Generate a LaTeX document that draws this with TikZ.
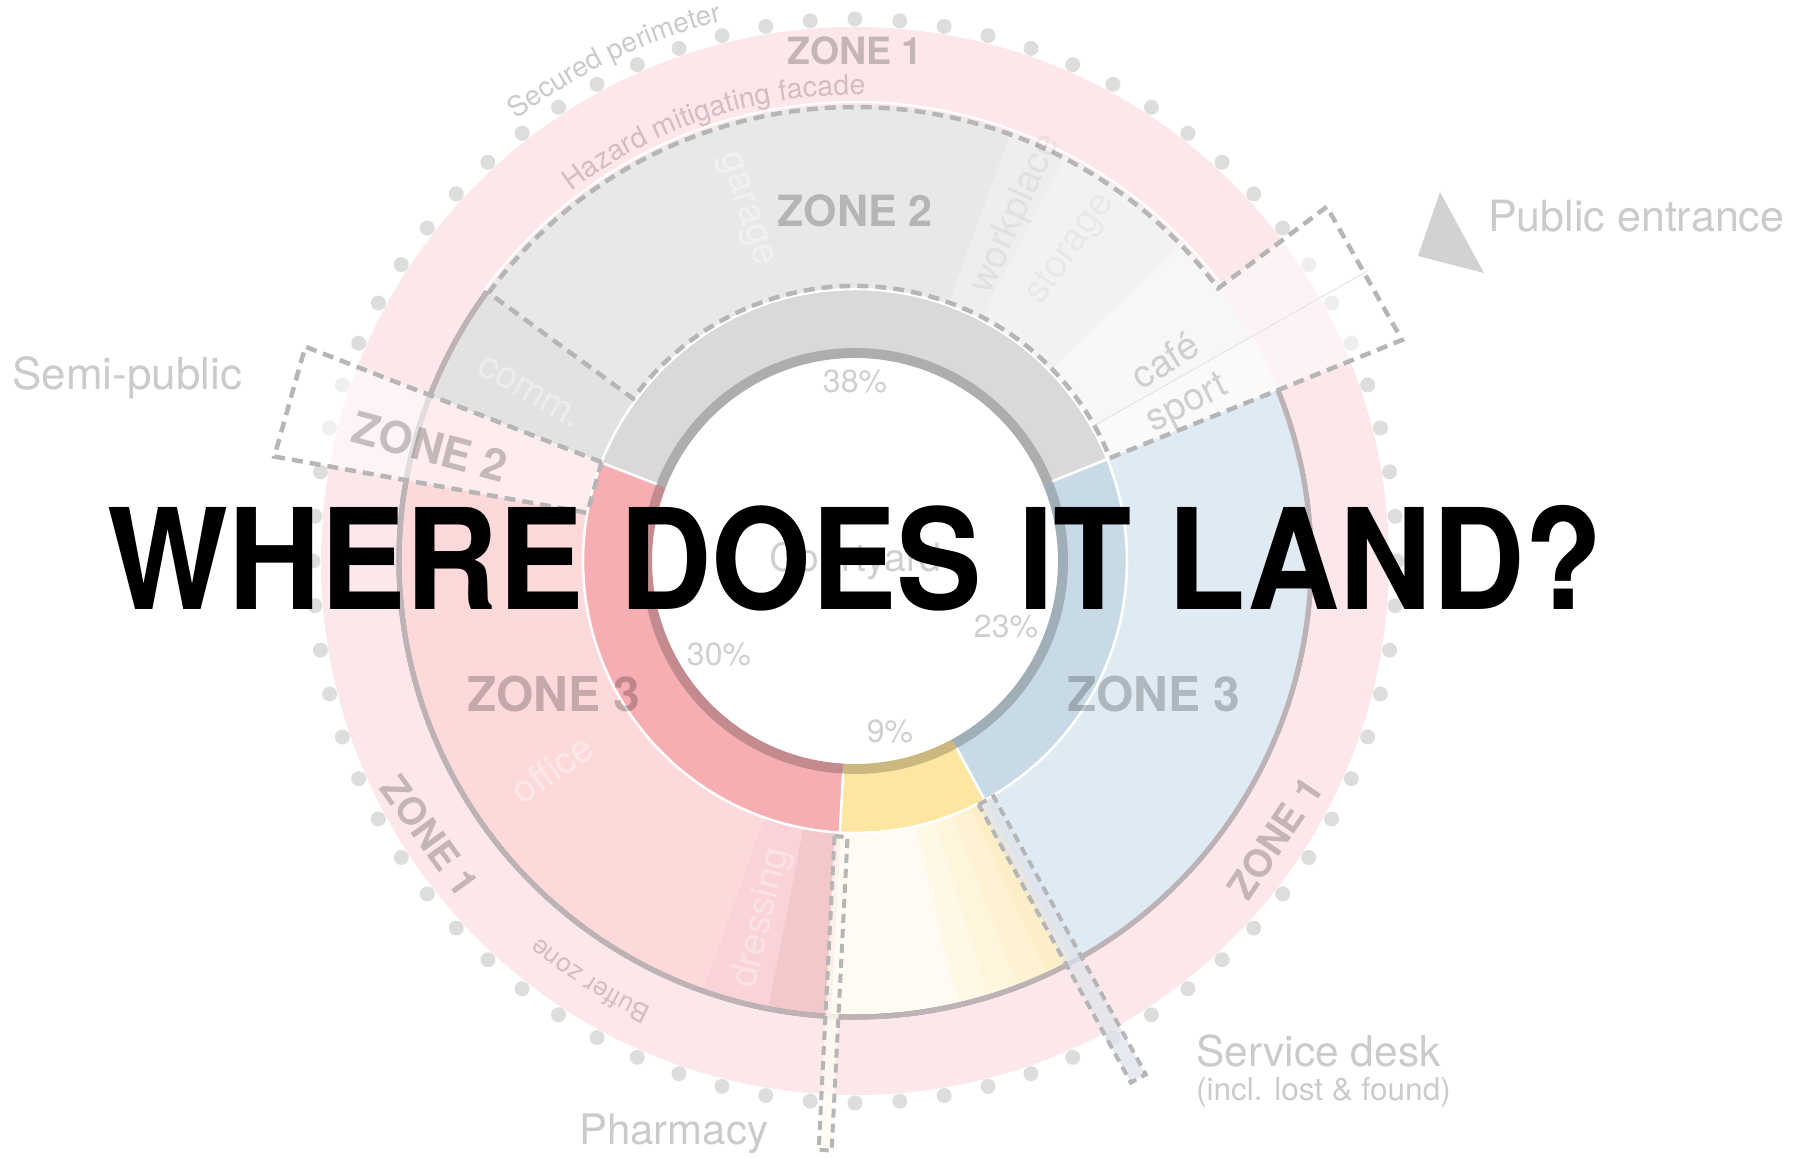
\documentclass[tikz,border=0pt]{standalone}
\usepackage{fontspec}
\setmainfont{TeX Gyre Heros}
\usetikzlibrary{decorations.text}

\definecolor{pinkring}{HTML}{FCE8EA}
\definecolor{dotgrey}{HTML}{DDDDDD}
\definecolor{ringgrey}{HTML}{DAD8D9}
\definecolor{ringred}{HTML}{F6AEB2}
\definecolor{ringyellow}{HTML}{FDE6A1}
\definecolor{ringblue}{HTML}{C9DAE7}
\definecolor{garagegrey}{HTML}{E8E8E8}
\definecolor{commgrey}{HTML}{E2E2E2}
\definecolor{workgrey}{HTML}{EEEEEE}
\definecolor{storegrey}{HTML}{F2F2F2}
\definecolor{cafegrey}{HTML}{F7F7F7}
\definecolor{sportgrey}{HTML}{FAFAFA}
\definecolor{officepink}{HTML}{FDD9DA}
\definecolor{dresspink}{HTML}{F9D3D7}
\definecolor{backpink}{HTML}{F3C8CA}
\definecolor{cream}{HTML}{FFFBF2}
\definecolor{yelA}{HTML}{FEF8E6}
\definecolor{yelB}{HTML}{FEF5DC}
\definecolor{yelC}{HTML}{FDF2D2}
\definecolor{yelD}{HTML}{FCEFC8}
\definecolor{bluezone}{HTML}{DFEBF4}
\definecolor{boxgrey}{HTML}{B6B6B6}
\definecolor{labelgrey}{HTML}{CBCBCB}
\definecolor{pctgrey}{HTML}{CFCFCF}
\definecolor{lavender}{HTML}{E0E3EC}
\definecolor{trigrey}{HTML}{D2D2D2}
\definecolor{facadetext}{HTML}{D3BDC1}
\definecolor{sepgrey}{HTML}{E4E4E4}
\definecolor{edgegrey}{HTML}{BDB2B5}

\newcommand{\fsz}[1]{\fontsize{#1}{#1}\selectfont}
\newcommand{\curvefont}{\fontsize{28}{28}\selectfont}
\newcommand{\bufferfont}{\fontsize{26}{26}\selectfont}
\newcommand{\facadefont}{\fontsize{28.5}{28.5}\selectfont}
% ring piece: colour, from angle, to angle, inner radius, outer radius
\newcommand{\ringpart}[5]{\fill[#1] (#2:#4) arc[start angle=#2,end angle=#3,radius=#4] -- (#3:#5) arc[start angle=#3,end angle=#2,radius=#5] -- cycle;}

\begin{document}
\begin{tikzpicture}[x=1pt,y=1pt,
  zonelabel/.style={text=black,text opacity=0.22,inner sep=0},
  lightlabel/.style={text=labelgrey,inner sep=0},
  pctlabel/.style={text=pctgrey,inner sep=0,font=\fsz{32}},
  roomlabel/.style={text=white,text opacity=0.4,inner sep=0,font=\fsz{38}},
  dashbox/.style={draw=boxgrey,line width=4.5pt,dash pattern=on 11pt off 7pt},
  stripbox/.style={draw=boxgrey,line width=4pt,dash pattern=on 9pt off 6pt}]
\useasboundingbox (-855,-597) rectangle (960,561);

% zone 1
\fill[pinkring,even odd rule] (0,0) circle[radius=534] (0,0) circle[radius=456];

% zone 2 and zone 3 rooms
\ringpart{sportgrey}{22}{29.5}{272}{456}
\ringpart{cafegrey}{29.5}{44.2}{272}{456}
\ringpart{storegrey}{44.2}{62.5}{272}{456}
\ringpart{workgrey}{62.5}{70}{272}{456}
\ringpart{garagegrey}{70}{143.8}{272}{456}
\ringpart{commgrey}{143.8}{158.7}{272}{456}
\ringpart{officepink}{158.7}{250.5}{272}{456}
\ringpart{dresspink}{250.5}{259}{272}{456}
\ringpart{backpink}{259}{267}{272}{456}
\ringpart{cream}{267}{298.5}{272}{456}
\foreach \a/\c in {283/yelA,287/yelB,291/yelC,295/yelD}
  \ringpart{\c}{\a}{298.5}{272}{456}
\ringpart{bluezone}{298.5}{382}{272}{456}
\draw[edgegrey,line width=5pt] (143.8:456) arc[start angle=143.8,end angle=382,radius=456];

% percentages ring
\ringpart{ringgrey}{22}{158.8}{203}{271}
\ringpart{ringred}{158.8}{266.8}{203}{271}
\ringpart{ringyellow}{266.8}{298.5}{203}{271}
\ringpart{ringblue}{298.5}{382}{203}{271}
\foreach \a in {22,158.8,266.8,298.5}
  \draw[white,line width=2.5pt] (\a:212) -- (\a:272);
\draw[black,opacity=0.2,line width=10pt] (0,0) circle[radius=208];
\draw[white,line width=2.5pt] (0,0) circle[radius=272];

% secured perimeter
\foreach \k in {0,...,75}
  \fill[dotgrey] (\k*4.73684:542) circle[radius=7.5];

% semi-public and public entrance
\filldraw[dashbox,fill=white,fill opacity=0.55] (158.7:272) -- (158.7:590) -- (169.8:590) -- (169.8:272) -- cycle;
\fill[white,fill opacity=0.5] (22:456) -- (22:590) -- (36.9:590) -- (36.9:456) arc[start angle=36.9,end angle=22,radius=456] -- cycle;
\draw[sepgrey,line width=1pt] (29.5:272) -- (29.5:590);
\draw[white,line width=2pt] (36.9:459) arc[start angle=36.9,end angle=143.8,radius=459];
\draw[dashbox] (143.8:454) arc[start angle=143.8,end angle=36.9,radius=454] -- (36.9:590) -- (22:590) -- (22:275) arc[start angle=22,end angle=143.8,radius=275] -- cycle;

% pharmacy and service desk
\begin{scope}[rotate=267.1]
\filldraw[stripbox,fill=cream,fill opacity=0.8] (276,-6.5) rectangle (590,6.5);
\end{scope}
\begin{scope}[rotate=298.7]
\filldraw[stripbox,fill=lavender,fill opacity=0.75] (273,-8.5) rectangle (590,8.5);
\end{scope}
\fill[trigrey] (585,369) -- (563,305) -- (629,288) -- cycle;

% curved labels
\path[decorate,decoration={text along path,text align=left,text color=labelgrey,
  text={|\curvefont|Secured perimeter}}] (127.5:556) arc[start angle=127.5,end angle=90,radius=556];
\path[decorate,decoration={text along path,text align=left,text color=facadetext,
  text={|\facadefont|Hazard mitigating facade}}] (127.5:466) arc[start angle=127.5,end angle=80,radius=466];
\path[decorate,decoration={text along path,text align=left,text color=facadetext,
  text={|\bufferfont|Buffer zone}}] (245.5:491) arc[start angle=245.5,end angle=215,radius=491];

% zone labels
\node[zonelabel,font=\bfseries\fsz{37.5},anchor=base] (zoneonetop) at (0,496) {ZONE 1};
\node[zonelabel,font=\bfseries\fsz{38},rotate=-54] (zoneoneleft) at (-425,-275) {ZONE 1};
\node[zonelabel,font=\bfseries\fsz{38},rotate=56] (zoneoneright) at (420,-277) {ZONE 1};
\node[zonelabel,font=\bfseries\fsz{43},anchor=base] (zonetwotop) at (0,334) {ZONE 2};
\node[zonelabel,font=\bfseries\fsz{44},rotate=-15] (zonetwobox) at (-425,114) {ZONE 2};
\node[zonelabel,font=\bfseries\fsz{48},anchor=base] (zonethreeleft) at (-301,-151) {ZONE 3};
\node[zonelabel,font=\bfseries\fsz{48},anchor=base] (zonethreeright) at (299,-151) {ZONE 3};

% rooms
\node[roomlabel,rotate=-30] (comm) at (-325,169) {comm.};
\node[roomlabel,rotate=-72] (garage) at (-110,351) {garage};
\node[roomlabel,text=black,text opacity=0.05,rotate=66] (workplace) at (161,347) {workplace};
\node[roomlabel,text=black,text opacity=0.04,rotate=55] (storage) at (216,312) {storage};
\node[roomlabel,text=pctgrey,text opacity=1,rotate=32] (cafe) at (310,201) {café};
\node[roomlabel,text=pctgrey,text opacity=1,rotate=27] (sport) at (333,156) {sport};
\node[roomlabel,rotate=35] (office) at (-303,-208) {office};
\node[roomlabel,text opacity=0.35,rotate=76] (dressing) at (-93,-357) {dressing};

% percentages
\node[pctlabel,anchor=base] (pcttop) at (0,168) {38\%};
\node[pctlabel,anchor=base] (pctright) at (151,-77) {23\%};
\node[pctlabel,anchor=base] (pctleft) at (-136,-105) {30\%};
\node[pctlabel,anchor=base] (pctbottom) at (35,-182) {9\%};
\node[pctlabel,font=\fsz{39},anchor=base] (courtyard) at (0.5,-11) {Courtyard};

% side labels
\node[lightlabel,font=\fsz{44},anchor=base west] (semipublic) at (-843,171) {Semi-public};
\node[lightlabel,font=\fsz{43},anchor=base west] (entrance) at (633,329) {Public entrance};
\node[lightlabel,font=\fsz{42.5},anchor=base west] (servicedesk) at (341,-505) {Service desk};
\node[lightlabel,font=\fsz{31.5},anchor=base west] (lostfound) at (341,-539) {(incl. lost \& found)};
\node[lightlabel,font=\fsz{42},anchor=base west] (pharmacy) at (-276,-583) {Pharmacy};

% title
\node[anchor=base,inner sep=0] (title) at (0,-49) {\scalebox{0.915}[1]{\fsz{140}\bfseries WHERE DOES IT LAND?}};
\end{tikzpicture}
\end{document}
